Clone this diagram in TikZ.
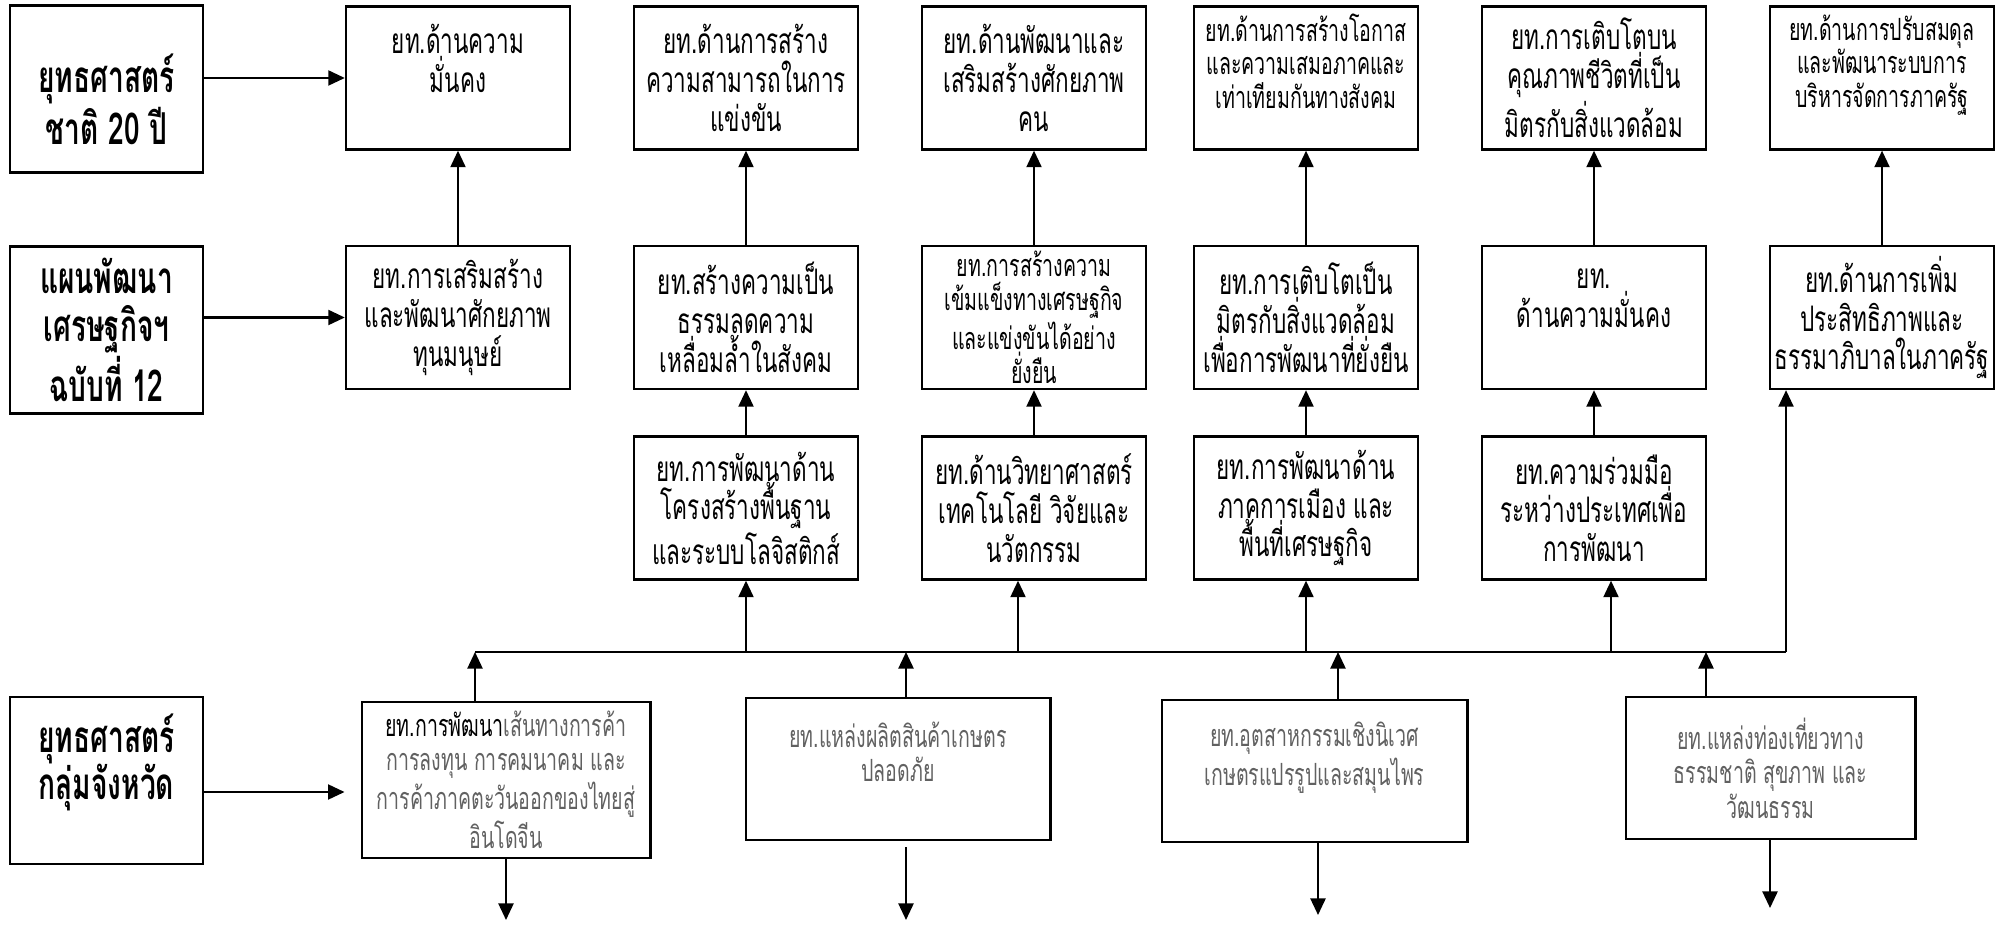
\documentclass[tikz,border=0pt]{standalone}
\usepackage{fontspec}
\newfontfamily\thaifont[Script=Thai,FakeStretch=0.64]{Loma}
\usetikzlibrary{arrows.meta,calc}

\tikzset{
  box/.style={draw, line width=0.65pt, inner sep=0pt, align=center,
    minimum width=2.24cm, minimum height=1.43cm,
    font={\thaifont\fontsize{10}{11}\selectfont}},
  smallbox/.style={box, font={\thaifont\fontsize{8.7}{9.6}\selectfont}},
  sidebox/.style={box, line width=0.75pt, minimum width=1.93cm, minimum height=1.67cm,
    font={\thaifont\bfseries\fontsize{12.5}{13.5}\selectfont}},
  provbox/.style={box, line width=0.8pt, text=black!62, font={\thaifont\fontsize{8.7}{9.8}\selectfont}},
  arr/.style={-{Triangle[length=0.165cm,width=0.15cm]}, line width=0.6pt}
}

\begin{document}
\begin{tikzpicture}[x=0.01cm,y=-0.01cm]
\useasboundingbox (0,0) rectangle (2001,931);

\node[sidebox] (lb1) at (106.5,89) {\rule{0pt}{17pt}ยุทธศาสตร์\\ชาติ 20 ปี};
\node[sidebox] (lb2) at (106.5,330) {แผนพัฒนา\\เศรษฐกิจฯ\\ฉบับที่ 12};
\node[sidebox] (lb3) at (106.5,780.5) {ยุทธศาสตร์\\กลุ่มจังหวัด\\ \mbox{}};

\node[box] (t1) at (458,78) {ยท.ด้านความ\\มั่นคง\\ \mbox{}};
\node[box] (t2) at (746,78) {ยท.ด้านการสร้าง\\ความสามารถในการ\\แข่งขัน};
\node[box] (t3) at (1034,78) {ยท.ด้านพัฒนาและ\\เสริมสร้างศักยภาพ\\คน};
\node[smallbox] (t4) at (1306,78) {ยท.ด้านการสร้างโอกาส\\และความเสมอภาคและ\\เท่าเทียมกันทางสังคม\\ \mbox{}};
\node[box] (t5) at (1594,78) {ยท.การเติบโตบน\\คุณภาพชีวิตที่เป็น\\มิตรกับสิ่งแวดล้อม};
\node[smallbox] (t6) at (1882,78) {ยท.ด้านการปรับสมดุล\\และพัฒนาระบบการ\\บริหารจัดการภาครัฐ\\ \mbox{}};

\node[box] (m1) at (458,317.5) {ยท.การเสริมสร้าง\\และพัฒนาศักยภาพ\\ทุนมนุษย์};
\node[box] (m2) at (746,317.5) {ยท.สร้างความเป็น\\ธรรมลดความ\\เหลื่อมล้ำในสังคม};
\node[smallbox] (m3) at (1034,317.5) {ยท.การสร้างความ\\เข้มแข็งทางเศรษฐกิจ\\และแข่งขันได้อย่าง\\ยั่งยืน};
\node[box] (m4) at (1306,317.5) {ยท.การเติบโตเป็น\\มิตรกับสิ่งแวดล้อม\\เพื่อการพัฒนาที่ยั่งยืน};
\node[box] (m5) at (1594,317.5) {ยท.\\ด้านความมั่นคง\\ \mbox{}};
\node[box] (m6) at (1882,317.5) {ยท.ด้านการเพิ่ม\\ประสิทธิภาพและ\\ธรรมาภิบาลในภาครัฐ};

\node[box] (r2) at (746,508) {ยท.การพัฒนาด้าน\\โครงสร้างพื้นฐาน\\และระบบโลจิสติกส์};
\node[box] (r3) at (1034,508) {ยท.ด้านวิทยาศาสตร์\\เทคโนโลยี วิจัยและ\\นวัตกรรม};
\node[box] (r4) at (1306,508) {ยท.การพัฒนาด้าน\\ภาคการเมือง และ\\พื้นที่เศรษฐกิจ};
\node[box] (r5) at (1594,508) {ยท.ความร่วมมือ\\ระหว่างประเทศเพื่อ\\การพัฒนา};

\node[provbox, minimum width=2.88cm, minimum height=1.56cm] (b1) at (506,780)
  {\textcolor{black}{ยท.การพัฒนา}เส้นทางการค้า\\การลงทุน การคมนาคม และ\\การค้าภาคตะวันออกของไทยสู่\\อินโดจีน};
\node[provbox, minimum width=3.04cm, minimum height=1.42cm] (b2) at (898,769)
  {ยท.แหล่งผลิตสินค้าเกษตร\\ปลอดภัย\\ \mbox{}};
\node[provbox, minimum width=3.05cm, minimum height=1.42cm] (b3) at (1314.5,771)
  {ยท.อุตสาหกรรมเชิงนิเวศ\\เกษตรแปรรูปและสมุนไพร\\ \mbox{}};
\node[provbox, minimum width=2.89cm, minimum height=1.42cm] (b4) at (1770.5,768)
  {ยท.แหล่งท่องเที่ยวทาง\\ธรรมชาติ สุขภาพ และ\\วัฒนธรรม};

\coordinate (busL) at (475,652);
\coordinate (busR) at (1786,652);
\coordinate (u2) at (906,652);
\coordinate (u3) at (1338,652);
\coordinate (u4) at (1706,652);
\coordinate (v3) at (1018,652);
\coordinate (v5) at (1611,652);
\coordinate (d1) at (506,920);
\coordinate (d2) at (906,920);
\coordinate (d3) at (1318,915);
\coordinate (d4) at (1770,908);

\draw[arr] (lb1.east |- t1.west) -- (t1.west);
\draw[arr] (lb2.east |- m1.west) -- (m1.west);
\draw[arr] ($(lb3.east)+(0,11.5)$) -- ($(b1.west)+(-16,12)$);

\draw[arr] (m1) -- (t1);
\draw[arr] (m2) -- (t2);
\draw[arr] (m3) -- (t3);
\draw[arr] (m4) -- (t4);
\draw[arr] (m5) -- (t5);
\draw[arr] (m6) -- (t6);

\draw[arr] (r2) -- (m2);
\draw[arr] (r3) -- (m3);
\draw[arr] (r4) -- (m4);
\draw[arr] (r5) -- (m5);

\draw[line width=0.6pt] (busL) -- (busR);
\draw[arr] (r2.south |- busL) -- (r2.south);
\draw[arr] (v3) -- (v3 |- r3.south);
\draw[arr] (r4.south |- busL) -- (r4.south);
\draw[arr] (v5) -- (v5 |- r5.south);
\draw[arr] (busR) -- (busR |- m6.south);

\draw[arr] (b1.north -| busL) -- (busL);
\draw[arr] (b2.north -| u2) -- (u2);
\draw[arr] (b3.north -| u3) -- (u3);
\draw[arr] (b4.north -| u4) -- (u4);

\draw[arr] (b1.south) -- (d1);
\draw[arr] ($(b2.south -| d2)+(0,6)$) -- (d2);
\draw[arr] (b3.south -| d3) -- (d3);
\draw[arr] (b4.south -| d4) -- (d4);
\end{tikzpicture}
\end{document}
